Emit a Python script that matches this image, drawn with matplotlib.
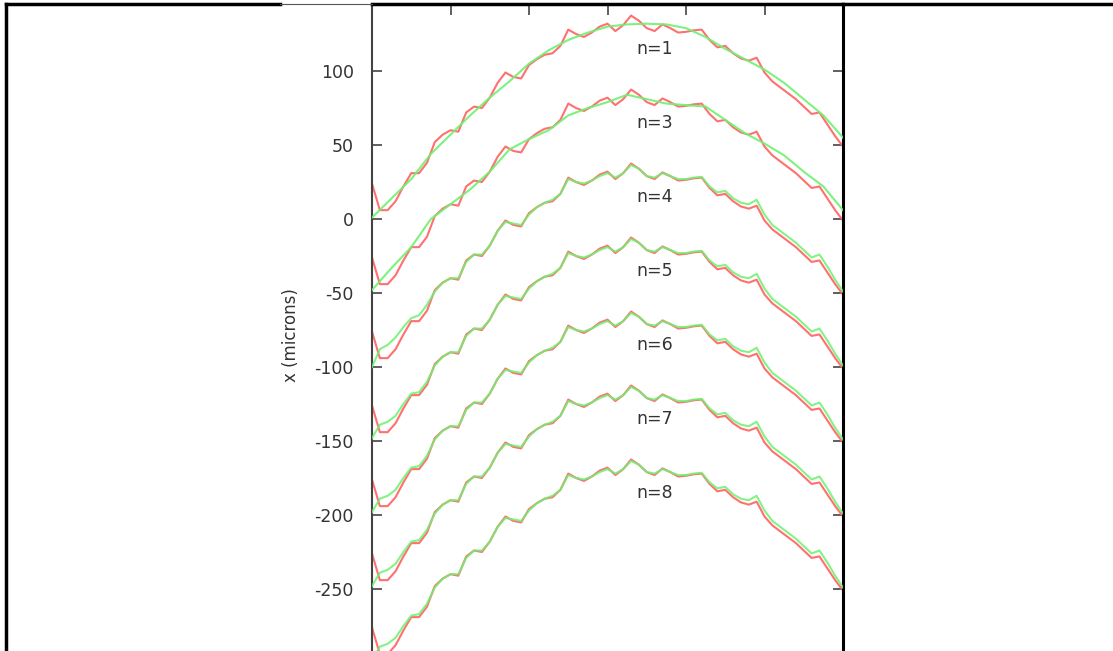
#!/usr/bin/env python3
import numpy as np
import matplotlib
matplotlib.use('Agg')
import matplotlib.pyplot as plt
from matplotlib.lines import Line2D

# measured profile (n=1 level), sampled every 0.1
x_fine = np.round(np.arange(0, 6.01, 0.1), 2)
red_base = [24, 6, 6, 12, 22, 31, 31, 38, 52, 57,
            60, 59, 72, 76, 75, 82, 92, 99, 96, 95,
            104, 108, 111, 112, 117, 128, 125, 123, 126, 130,
            132, 127, 131, 137.5, 134, 129, 127, 131.5, 129, 126,
            126.5, 127.5, 128, 121, 116, 117, 112, 108.5, 107, 109,
            99, 93, 89, 85, 81, 76, 71, 72, 64, 56, 49]

# fits, same level as red_base
green_n4 = [0, 12, 15, 20, 27, 33, 35, 42, 51, 57,
            60, 60, 71, 76, 76, 82, 92, 98, 97, 96,
            103, 108, 111, 113, 117, 127, 125, 124, 126, 129,
            131, 128, 131, 136.5, 134, 129, 128, 131, 129, 127,
            127, 128, 128.5, 122, 118, 119, 114, 111, 110, 113,
            103, 96, 92, 88, 84, 79, 74, 76, 68, 59, 51]
green_hi = [2, 11, 13, 17, 25, 32, 33, 40, 51, 57,
            60, 60, 71, 76, 76, 82, 92, 98, 97, 96,
            103, 108, 111, 113, 117, 127, 125, 124, 126, 129,
            131, 128, 131, 136.5, 134, 129, 128, 131, 129, 127,
            127, 128, 128.5, 122, 118, 119, 114, 111, 110, 113,
            103, 96, 92, 88, 84, 79, 74, 76, 68, 59, 51]

x_coarse = np.round(np.arange(0, 6.01, 0.25), 2)
green_n1 = [1, 14, 27, 44, 57, 70, 82, 93, 105, 114, 121, 126, 130,
            131.5, 132, 131.5, 129, 123, 115, 108, 101, 92, 81, 70, 55]
green_n3 = [2, 17, 31, 50, 60, 70, 82, 97, 104, 110, 120, 125, 129,
            134, 131, 128, 127, 126, 117, 108, 101, 93, 82, 72, 56]

labels = ['n=1', 'n=3', 'n=4', 'n=5', 'n=6', 'n=7', 'n=8']
offsets = [0, -50, -100, -150, -200, -250, -300]
label_y = [115, 65, 15, -35, -85, -135, -185]

W, H = 1113, 651
fig = plt.figure(figsize=(W / 100, H / 100), dpi=100)
ax = fig.add_axes([372 / W, 0, (843 - 372) / W, 1 - 4 / H])

plt.rcParams['axes.unicode_minus'] = False

red = '#ff7070'
green = '#70f070'
for i, off in enumerate(offsets):
    ax.plot(x_fine, np.array(red_base) + off, color=red, lw=1.5, zorder=2)
    if i == 0:
        ax.plot(x_coarse, np.array(green_n1) + off, color=green, lw=1.5, alpha=0.9, zorder=3)
    elif i == 1:
        ax.plot(x_coarse, np.array(green_n3) + off, color=green, lw=1.5, alpha=0.9, zorder=3)
    elif i == 2:
        ax.plot(x_fine, np.array(green_n4) + off, color=green, lw=1.5, alpha=0.85, zorder=3)
    else:
        ax.plot(x_fine, np.array(green_hi) + off, color=green, lw=1.5, alpha=0.85, zorder=3)
    ax.text(3.6, label_y[i], labels[i], ha='center', va='center',
            fontsize=12.5, color='#333333', family='DejaVu Sans')

ax.set_xlim(0, 6)
ax.set_ylim(-291.9, 145.3)
ax.set_yticks([100, 50, 0, -50, -100, -150, -200, -250])
ax.set_yticklabels(['100', '50', '0', '-50', '-100', '-150', '-200', '-250'])
ax.set_xticks([1, 2, 3, 4, 5])
ax.tick_params(axis='y', direction='in', length=7, width=1.2, color='#444444',
               left=True, right=True, labelsize=12.5, labelcolor='#333333', pad=13)
ax.tick_params(axis='x', direction='in', length=8, width=1.2, color='#444444',
               top=True, bottom=False, labelbottom=False, labeltop=False)
ax.spines['bottom'].set_visible(False)
ax.spines['left'].set_color('#444444')
ax.spines['left'].set_linewidth(1.5)
ax.spines['right'].set_color('black')
ax.spines['right'].set_linewidth(2.2)
ax.spines['top'].set_color('black')
ax.spines['top'].set_linewidth(2.5)
ax.set_ylabel('x (microns)', fontsize=12, color='#333333')
ax.yaxis.set_label_coords(-0.153, 0.488)

# outer frame pieces of the cropped page
def fline(x0, y0, x1, y1, lw, color):
    fig.add_artist(Line2D([x0 / W, x1 / W], [1 - y0 / H, 1 - y1 / H], lw=lw,
                          color=color, transform=fig.transFigure))

fline(6, 4, 280, 4, 2.5, 'black')
fline(280, 4, 372, 4, 0.8, '#555555')
fline(843, 4, W, 4, 2.5, 'black')
fline(6, 4, 6, H, 2.5, 'black')

fig.savefig('out.png', dpi=100)
